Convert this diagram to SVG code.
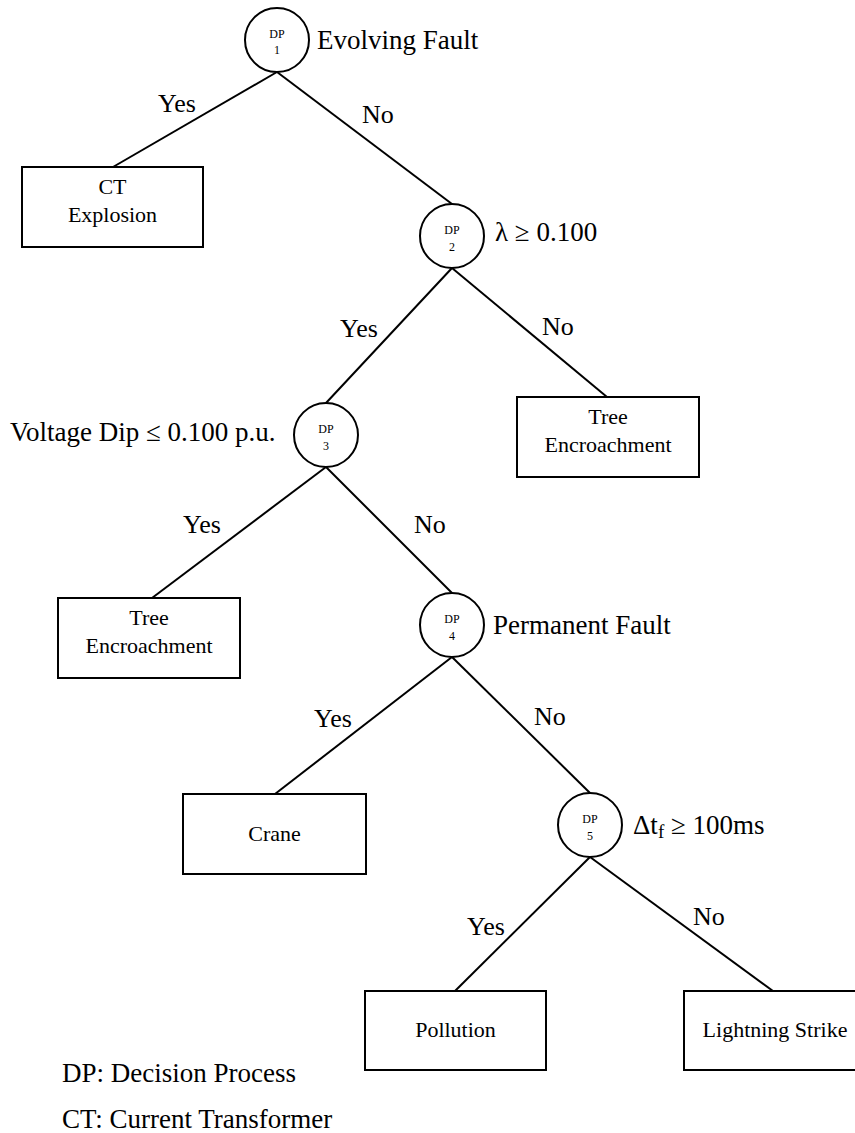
<svg xmlns="http://www.w3.org/2000/svg" width="855" height="1133" viewBox="0 0 855 1133" font-family="'Liberation Serif', 'DejaVu Serif', serif">
<style>
.n{fill:#fff;stroke:#000;stroke-width:2}
.c{stroke:#000;stroke-width:2;fill:none}
text{font-family:'Liberation Serif','DejaVu Serif',serif;fill:#000}
.dp{font-size:12px;text-anchor:middle}
.lbl{font-size:27px}
.yn{font-size:26px}
.bx{font-size:22px;text-anchor:middle}
</style>
<rect width="855" height="1133" fill="#fff"/>
<g id="connectors">
<line class="c" x1="277" y1="72" x2="113" y2="167"/>
<line class="c" x1="277" y1="72" x2="452" y2="204"/>
<line class="c" x1="452" y1="268" x2="326" y2="403"/>
<line class="c" x1="452" y1="268" x2="607" y2="397"/>
<line class="c" x1="326" y1="467" x2="152" y2="598"/>
<line class="c" x1="326" y1="467" x2="452" y2="593"/>
<line class="c" x1="452" y1="657" x2="275" y2="794"/>
<line class="c" x1="452" y1="657" x2="590" y2="793"/>
<line class="c" x1="590" y1="857" x2="455" y2="991"/>
<line class="c" x1="590" y1="857" x2="773" y2="991"/>
<text class="yn" x="158" y="112">Yes</text>
<text class="yn" x="362" y="123">No</text>
<text class="yn" x="340" y="337">Yes</text>
<text class="yn" x="542" y="335">No</text>
<text class="yn" x="183" y="533">Yes</text>
<text class="yn" x="414" y="533">No</text>
<text class="yn" x="314" y="727">Yes</text>
<text class="yn" x="534" y="725">No</text>
<text class="yn" x="467" y="935">Yes</text>
<text class="yn" x="693" y="925">No</text>
</g>
<g id="dp1">
<circle class="n" cx="277" cy="40" r="32"/>
<text class="dp" x="277" y="38">DP</text>
<text class="dp" x="277" y="54">1</text>
<text class="lbl" x="317" y="49">Evolving Fault</text>
</g>
<g id="dp2">
<circle class="n" cx="452" cy="236" r="32"/>
<text class="dp" x="452" y="234">DP</text>
<text class="dp" x="452" y="251">2</text>
<text class="lbl" x="495" y="241">λ ≥ 0.100</text>
</g>
<g id="dp3">
<circle class="n" cx="326" cy="435" r="32"/>
<text class="dp" x="326" y="433">DP</text>
<text class="dp" x="326" y="450">3</text>
<text class="lbl" x="10" y="441">Voltage Dip ≤ 0.100 p.u.</text>
</g>
<g id="dp4">
<circle class="n" cx="452" cy="625" r="32"/>
<text class="dp" x="452" y="623">DP</text>
<text class="dp" x="452" y="640">4</text>
<text class="lbl" x="493" y="634">Permanent Fault</text>
</g>
<g id="dp5">
<circle class="n" cx="590" cy="825" r="32"/>
<text class="dp" x="590" y="823">DP</text>
<text class="dp" x="590" y="840">5</text>
<text class="lbl" x="633" y="834">Δt<tspan font-size="19" dy="4">f</tspan><tspan dy="-4"> ≥ 100ms</tspan></text>
</g>
<g id="ct-explosion">
<rect class="n" x="22" y="167" width="181" height="80"/>
<text class="bx" x="112.5" y="194">CT</text>
<text class="bx" x="112.5" y="222">Explosion</text>
</g>
<g id="tree-right">
<rect class="n" x="517" y="397" width="182" height="80"/>
<text class="bx" x="608" y="424">Tree</text>
<text class="bx" x="608" y="452">Encroachment</text>
</g>
<g id="tree-left">
<rect class="n" x="58" y="598" width="182" height="80"/>
<text class="bx" x="149" y="625">Tree</text>
<text class="bx" x="149" y="653">Encroachment</text>
</g>
<g id="crane">
<rect class="n" x="183" y="794" width="183" height="80"/>
<text class="bx" x="274.5" y="841">Crane</text>
</g>
<g id="pollution">
<rect class="n" x="365" y="991" width="181" height="79"/>
<text class="bx" x="455.5" y="1037">Pollution</text>
</g>
<g id="lightning">
<rect class="n" x="684" y="991" width="182" height="79"/>
<text class="bx" x="775" y="1037">Lightning Strike</text>
</g>
<g id="legend">
<text class="lbl" x="62" y="1082">DP: Decision Process</text>
<text class="lbl" x="62" y="1128">CT: Current Transformer</text>
</g>
</svg>
